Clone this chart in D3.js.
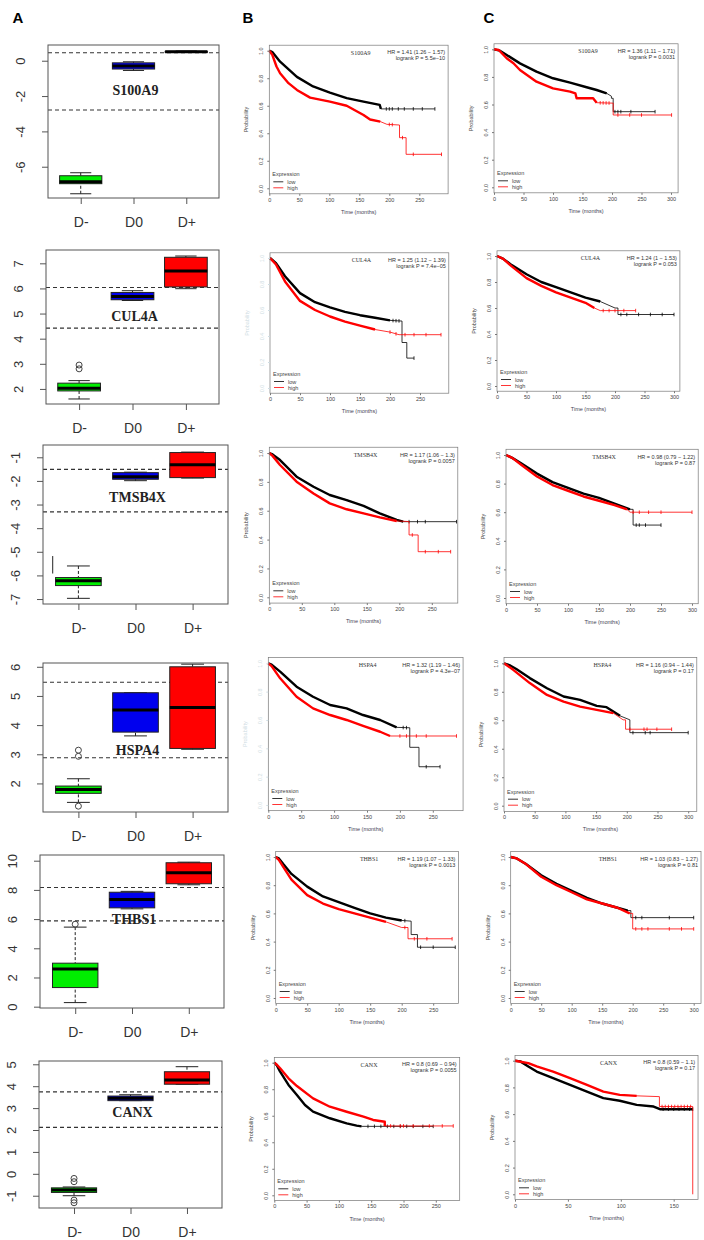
<!DOCTYPE html>
<html>
<head>
<meta charset="utf-8">
<script src="https://cdnjs.cloudflare.com/ajax/libs/d3/7.8.5/d3.min.js"></script>
<style>
body { margin: 0; background: #fff; }
</style>
</head>
<body>
<div id="fig"></div>
<script>
// ---- data ----
const genes = ["S100A9", "CUL4A", "TMSB4X", "HSPA4", "THBS1", "CANX"];
const groups = ["D-", "D0", "D+"];
const groupColors = ["#00ee00", "#0000ee", "#ff0000"];

// [lower whisker, Q1, median, Q3, upper whisker] for D-, D0, D+
const boxStats = [
  [[-7.53, -6.96, -6.85, -6.51, -6.34], [-0.55, -0.47, -0.30, -0.12, -0.06], [0.47, 0.49, 0.51, 0.53, 0.55]],
  [[1.60, 1.92, 2.03, 2.23, 2.33], [5.52, 5.55, 5.68, 5.84, 5.91], [5.99, 6.06, 6.69, 7.24, 7.29]],
  [[-6.97, -6.43, -6.23, -6.09, -5.60], [-1.99, -1.93, -1.82, -1.65, -1.63], [-1.88, -1.86, -1.32, -0.80, -0.78]],
  [[1.35, 1.66, 1.79, 1.91, 2.16], [3.63, 3.76, 4.52, 5.11, 5.11], [3.17, 3.20, 4.60, 6.00, 6.09]],
  [[0.28, 1.31, 2.58, 2.98, 5.45], [6.70, 6.77, 7.34, 7.84, 7.90], [8.35, 8.42, 9.17, 9.86, 9.90]],
  [[-1.00, -0.85, -0.74, -0.64, -0.60], [3.34, 3.34, 3.45, 3.55, 3.61], [4.09, 4.09, 4.28, 4.66, 4.89]]
];
const boxOutliers = [
  [[], [], []],
  [[2.95, 2.80], [], []],
  [[], [], []],
  [[3.14, 2.93, 1.22], [], []],
  [[5.65], [], []],
  [[-0.21, -0.36, -1.20, -1.32], [], []]
];
const cutoffs = [[0.45, -2.79], [6.04, 4.42], [-1.51, -3.31], [5.47, 2.88], [8.16, 5.88], [3.74, 2.12]];
const yDomains = [[-7.77, 0.89], [1.40, 7.53], [-7.21, -0.48], [1.02, 6.13], [-0.09, 10.39], [-1.56, 5.15]];
const yTicks = [[-6, -4, -2, 0], [2, 3, 4, 5, 6, 7], [-7, -6, -5, -4, -3, -2, -1], [2, 3, 4, 5, 6], [0, 2, 4, 6, 8, 10], [-1, 0, 1, 2, 3, 4, 5]];
const geneLabelAt = [-1.66, 4.9, -2.68, 3.15, 6.0, 2.82];
// stray vertical mark left of the TMSB4X D- box
const strayMark = [-5.92, -5.18];

// Kaplan-Meier text
const hrB = ["HR = 1.41 (1.26 \u2212 1.57)", "HR = 1.25 (1.12 \u2212 1.39)", "HR = 1.17 (1.06 \u2212 1.3)",
             "HR = 1.32 (1.19 \u2212 1.46)", "HR = 1.19 (1.07 \u2212 1.33)", "HR = 0.8 (0.69 \u2212 0.94)"];
const pB = ["logrank P = 5.5e\u221210", "logrank P = 7.4e\u221205", "logrank P = 0.0057",
            "logrank P = 4.3e\u221207", "logrank P = 0.0013", "logrank P = 0.0055"];
const hrC = ["HR = 1.36 (1.11 \u2212 1.71)", "HR = 1.24 (1 \u2212 1.53)", "HR = 0.98 (0.79 \u2212 1.22)",
             "HR = 1.16 (0.94 \u2212 1.44)", "HR = 1.03 (0.83 \u2212 1.27)", "HR = 0.8 (0.59 \u2212 1.1)"];
const pC = ["logrank P = 0.0031", "logrank P = 0.053", "logrank P = 0.87",
            "logrank P = 0.17", "logrank P = 0.81", "logrank P = 0.17"];

// survival curves [months, probability]
const lowB = [
  [[0,1],[5,0.99],[18,0.92],[46,0.81],[73,0.74],[101,0.695],[129,0.655],[157,0.63],[184,0.606],[186,0.577],[276,0.577]],
  [[0,1],[10,0.96],[25,0.86],[50,0.73],[75,0.66],[100,0.62],[125,0.585],[150,0.56],[175,0.54],[200,0.52],[220,0.515],[220,0.35],[228,0.35],[228,0.23],[240,0.23]],
  [[0,1],[5,0.99],[16.5,0.951],[42,0.836],[68,0.766],[93,0.709],[119,0.674],[145,0.633],[170,0.582],[196,0.536],[206,0.524],[288,0.524]],
  [[0,1],[5,0.99],[18,0.941],[43,0.835],[68,0.764],[94,0.706],[119,0.682],[144,0.635],[170,0.6],[195,0.548],[215,0.545],[215,0.407],[229,0.407],[229,0.27],[261,0.27]],
  [[0,1],[5,0.99],[12,0.95],[25,0.88],[50,0.79],[75,0.72],[100,0.68],[125,0.64],[150,0.6],[175,0.57],[200,0.55],[215,0.545],[215,0.45],[225,0.45],[225,0.36],[285,0.36]],
  [[0,1],[4,0.98],[9,0.932],[22,0.832],[35,0.756],[47.5,0.681],[60,0.631],[86,0.581],[112,0.543],[127.5,0.525],[135,0.52],[246,0.52]]
];
const highB = [
  [[0,1],[5,0.97],[12,0.885],[18,0.836],[32,0.764],[46,0.715],[68,0.659],[101,0.63],[129,0.6],[157,0.533],[168,0.5],[185,0.485],[196,0.465],[217,0.46],[217,0.368],[228,0.368],[228,0.247],[287,0.247]],
  [[0,1],[10,0.95],[25,0.82],[50,0.67],[75,0.6],[100,0.55],[125,0.51],[150,0.48],[175,0.45],[200,0.43],[215,0.41],[285,0.41]],
  [[0,1],[5,0.98],[16.5,0.917],[42,0.801],[68,0.72],[93,0.651],[119,0.61],[145,0.582],[170,0.554],[196,0.529],[215,0.525],[215,0.432],[229,0.432],[229,0.316],[279,0.316]],
  [[0,1],[5,0.98],[18,0.894],[43,0.764],[68,0.682],[94,0.635],[119,0.6],[144,0.558],[170,0.517],[185,0.487],[286,0.487]],
  [[0,1],[5,0.98],[12,0.93],[25,0.84],[50,0.73],[75,0.67],[100,0.63],[125,0.6],[150,0.57],[175,0.54],[200,0.5],[210,0.5],[210,0.42],[280,0.42]],
  [[0,1],[4,0.985],[9,0.958],[22,0.882],[35,0.824],[60,0.731],[86,0.668],[112,0.63],[138,0.593],[153,0.568],[171,0.555],[171,0.523],[277,0.523]]
];
const lowC = [
  [[0,1],[10,0.99],[21.5,0.959],[44,0.898],[72,0.838],[100,0.79],[129,0.758],[157,0.725],[174,0.705],[191,0.681],[199,0.66],[199,0.645],[202,0.645],[202,0.548],[273,0.548]],
  [[0,1],[10,0.98],[25,0.93],[50,0.86],[75,0.8],[100,0.76],[125,0.72],[150,0.68],[175,0.65],[200,0.6],[205,0.6],[205,0.55],[300,0.55]],
  [[0,1],[10,0.98],[25,0.94],[50,0.87],[75,0.81],[100,0.77],[125,0.73],[150,0.7],[175,0.66],[200,0.62],[205,0.62],[205,0.51],[250,0.51]],
  [[0,1],[10,0.985],[20,0.96],[42,0.896],[70,0.825],[97,0.767],[124,0.743],[151,0.701],[167,0.692],[189,0.631],[205,0.603],[205,0.513],[300,0.513]],
  [[0,1],[10,0.99],[25,0.95],[50,0.87],[75,0.81],[100,0.76],[125,0.71],[150,0.67],[175,0.64],[192,0.62],[197,0.62],[197,0.57],[300,0.57]],
  [[0,1],[5,0.995],[12.6,0.957],[20.5,0.919],[36,0.87],[52,0.819],[68,0.769],[83.5,0.72],[99,0.7],[115,0.669],[131,0.657],[137,0.637],[168,0.637]]
];
const highC = [
  [[0,1],[8,0.995],[21.5,0.935],[33,0.899],[44,0.85],[72,0.765],[100,0.717],[129,0.693],[138,0.68],[140,0.645],[168,0.645],[174,0.613],[200,0.61],[202,0.61],[202,0.524],[301,0.524]],
  [[0,1],[10,0.98],[25,0.92],[50,0.83],[75,0.77],[100,0.72],[125,0.68],[150,0.64],[165,0.6],[175,0.58],[235,0.58]],
  [[0,1],[10,0.98],[25,0.93],[50,0.85],[75,0.79],[100,0.75],[125,0.71],[150,0.68],[175,0.65],[195,0.62],[200,0.6],[300,0.6]],
  [[0,1],[15,0.954],[42,0.861],[70,0.778],[97,0.731],[124,0.696],[151,0.673],[178,0.65],[194,0.603],[198,0.603],[198,0.537],[273,0.537]],
  [[0,1],[10,0.99],[25,0.95],[50,0.86],[75,0.8],[100,0.75],[125,0.7],[150,0.67],[175,0.64],[195,0.6],[200,0.6],[200,0.49],[300,0.49]],
  [[0,1],[12.6,0.982],[20.5,0.957],[36,0.919],[52,0.87],[68,0.819],[83.5,0.769],[99,0.744],[115,0.737],[136.5,0.731],[136.5,0.657],[168,0.657],[168,0]]
];
// month up to which the censor marks merge into a thick band [low, high]
const denseB = [[207, 190], [200, 190], [210, 205], [200, 192], [200, 195], [135, 171]];
const denseC = [[195, 175], [195, 170], [200, 195], [190, 180], [195, 195], [168, 136]];
// isolated censor marks [low, high]
const censorB = [
  [[195,200,205,215,225,240,255,276], [200,205,222,240,287]],
  [[205,210,215,240], [200,210,225,240,260,285]],
  [[215,228,240,288], [220,240,260,279]],
  [[205,210,240,261], [200,210,225,240,286]],
  [[205,230,250,285], [205,220,240,280]],
  [[145,155,165,175,185,195,205,215,230,246], [180,195,200,215,240,260,277]]
];
const censorC = [
  [[205,210,215,232,273], [180,185,190,195,210,230,250,301]],
  [[210,220,240,260,280,300], [180,190,200,215,235]],
  [[210,215,225,250], [205,215,230,250,300]],
  [[210,230,238,300], [205,228,233,249,273]],
  [[205,215,260,300], [205,215,225,260,280,300]],
  [[140,145,150,155,160,165,168], [139,142,145,148,151,154,157,160,163,166]]
];

// ---- layout ----
const width = 704, height = 1240;
const boxFrames = [
  {left: 48, right: 219, top: 45, bottom: 198},
  {left: 46, right: 219, top: 250, bottom: 404},
  {left: 43, right: 228, top: 445, bottom: 604},
  {left: 43, right: 228, top: 663, bottom: 812},
  {left: 40, right: 224, top: 855, bottom: 1008},
  {left: 39, right: 222, top: 1061, bottom: 1208}
];
const kmLayoutB = [
  {left: 269.3, k: 0.6, tmax: 298, s1: 50.7, s0: 188.3},
  {left: 270, k: 0.6, tmax: 298, s1: 258, s0: 388, faint: true},
  {left: 269.3, k: 0.65, tmax: 290, s1: 453, s0: 597.3},
  {left: 268.3, k: 0.658, tmax: 296, s1: 663.3, s0: 805, faint: true},
  {left: 275.7, k: 0.63, tmax: 290, s1: 857, s0: 998},
  {left: 274.3, k: 0.646, tmax: 287, s1: 1062.7, s0: 1195.3}
];
const kmLayoutC = [
  {left: 494, k: 0.59, tmax: 312, s1: 49.3, s0: 187.3},
  {left: 497, k: 0.59, tmax: 310, s1: 256, s0: 386},
  {left: 506, k: 0.62, tmax: 310, s1: 455, s0: 598},
  {left: 504, k: 0.614, tmax: 314, s1: 663.3, s0: 805.7},
  {left: 510.7, k: 0.61, tmax: 312, s1: 857, s0: 998},
  {left: 515, k: 1.058, tmax: 173, s1: 1060.7, s0: 1194.3}
];

const svg = d3.select("#fig").append("svg")
  .attr("width", width)
  .attr("height", height)
  .style("font-family", "'Liberation Sans', Arial, sans-serif");

svg.append("rect").attr("width", width).attr("height", height).attr("fill", "#fff");

// panel letters
svg.selectAll(".letter").data([["A", 18], ["B", 248], ["C", 489]])
  .enter().append("text")
  .attr("x", d => d[1]).attr("y", 23)
  .attr("text-anchor", "middle")
  .style("font-size", "15px").style("font-weight", "bold")
  .text(d => d[0]);

// ---- column A: boxplots ----
const boxPanel = i => {
  const f = boxFrames[i];
  const x = d3.scalePoint().domain(groups).range([f.left, f.right]).padding(0.62);
  const y = d3.scaleLinear().domain(yDomains[i]).range([f.bottom, f.top]);
  const bw = x.step() * 0.8;
  const g = svg.append("g");

  g.selectAll(".cut").data(cutoffs[i]).enter().append("line")
    .attr("x1", f.left).attr("x2", f.right)
    .attr("y1", d => y(d)).attr("y2", d => y(d))
    .attr("stroke", "#333").attr("stroke-width", 1.1)
    .attr("stroke-dasharray", "4,3");

  groups.forEach((grp, j) => {
    const [lo, q1, md, q3, hi] = boxStats[i][j];
    const cx = x(grp);
    [[hi, q3], [lo, q1]].forEach(w => {
      g.append("line").attr("x1", cx).attr("x2", cx)
        .attr("y1", y(w[0])).attr("y2", y(w[1]))
        .attr("stroke", "#222").attr("stroke-dasharray", "3,2");
      g.append("line").attr("x1", cx - bw / 4).attr("x2", cx + bw / 4)
        .attr("y1", y(w[0])).attr("y2", y(w[0]))
        .attr("stroke", "#222");
    });
    g.append("rect")
      .attr("x", cx - bw / 2).attr("y", y(q3))
      .attr("width", bw).attr("height", Math.max(1, y(q1) - y(q3)))
      .attr("fill", groupColors[j]).attr("stroke", "#222");
    g.append("line").attr("x1", cx - bw / 2).attr("x2", cx + bw / 2)
      .attr("y1", y(md)).attr("y2", y(md))
      .attr("stroke", "#000").attr("stroke-width", 3);
    g.selectAll(".out" + j).data(boxOutliers[i][j]).enter().append("circle")
      .attr("cx", cx).attr("cy", d => y(d)).attr("r", 3)
      .attr("fill", "none").attr("stroke", "#444");
  });

  if (i === 2) {
    const sx = x(groups[0]) - x.step() * 0.45;
    g.append("line").attr("x1", sx).attr("x2", sx)
      .attr("y1", y(strayMark[0])).attr("y2", y(strayMark[1]))
      .attr("stroke", "#222");
  }

  g.append("rect")
    .attr("x", f.left).attr("y", f.top)
    .attr("width", f.right - f.left).attr("height", f.bottom - f.top)
    .attr("fill", "none").attr("stroke", "#555");

  const ya = g.append("g").attr("transform", `translate(${f.left},0)`)
    .call(d3.axisLeft(y).tickValues(yTicks[i]).tickSize(6).tickFormat(d => String(d)));
  ya.select(".domain").remove();
  ya.selectAll("line").attr("stroke", "#555");
  ya.selectAll("text")
    .attr("transform", "rotate(-90)")
    .attr("x", 0).attr("y", -23).attr("dy", 0)
    .attr("text-anchor", "middle")
    .attr("fill", "#333")
    .style("font-size", "13px");

  const xa = g.append("g").attr("transform", `translate(0,${f.bottom})`)
    .call(d3.axisBottom(x).tickSize(6).tickPadding(13));
  xa.select(".domain").remove();
  xa.selectAll("line").attr("stroke", "#555");
  xa.selectAll("text").attr("fill", "#333").style("font-size", "14px");

  g.append("text")
    .attr("x", x(groups[1]) + 2).attr("y", y(geneLabelAt[i]))
    .attr("dy", "0.35em").attr("text-anchor", "middle")
    .style("font-family", "'Liberation Serif', 'Times New Roman', serif")
    .style("font-weight", "bold").style("font-size", "14px")
    .attr("fill", "#222")
    .text(genes[i]);
};

// ---- columns B and C: Kaplan-Meier curves ----
const valueAt = (c, t) => {
  let v = c[0][1];
  for (let k = 0; k < c.length; k++) {
    if (c[k][0] <= t) v = c[k][1];
    else {
      const a = c[k - 1];
      if (a) v = a[1] + (c[k][1] - a[1]) * (t - a[0]) / (c[k][0] - a[0]);
      break;
    }
  }
  return v;
};

const kmPanel = (p, i, curves, dense, censor, hr, pv) => {
  const x = d3.scaleLinear().domain([0, p.tmax]).range([p.left, p.left + p.k * p.tmax]);
  const y = d3.scaleLinear().domain([0, 1]).range([p.s0, p.s1]);
  const top = y(1.04), bot = y(-0.04), right = x(p.tmax);
  const g = svg.append("g");
  const line = d3.line().x(d => x(d[0])).y(d => y(d[1]));
  const cols = ["#000", "#ff0000"];

  curves.forEach((c, j) => {
    g.append("path").attr("d", line(c))
      .attr("fill", "none").attr("stroke", cols[j]).attr("stroke-width", 0.8);
    g.append("path").attr("d", line(c.filter(d => d[0] <= dense[j])))
      .attr("fill", "none").attr("stroke", cols[j]).attr("stroke-width", 2.4)
      .attr("stroke-linejoin", "round");
    censor[j].forEach(t => {
      const cx = x(t), cy = y(valueAt(c, t));
      g.append("line").attr("x1", cx).attr("x2", cx).attr("y1", cy - 1.8).attr("y2", cy + 1.8)
        .attr("stroke", cols[j]).attr("stroke-width", 0.8);
    });
  });

  g.append("rect").attr("x", p.left).attr("y", top)
    .attr("width", right - p.left).attr("height", bot - top)
    .attr("fill", "none").attr("stroke", "#777").attr("stroke-width", 0.7);

  const tickCol = p.faint ? "#cfdde3" : "#444";
  const xa = g.append("g").attr("transform", `translate(0,${bot})`)
    .call(d3.axisBottom(x).tickValues(d3.range(0, p.tmax + 0.1, 50)).tickSize(2).tickPadding(2));
  xa.select(".domain").remove();
  xa.selectAll("line").attr("stroke", "#777");
  xa.selectAll("text").attr("fill", "#444").style("font-size", "5.5px");

  const ya = g.append("g").attr("transform", `translate(${p.left},0)`)
    .call(d3.axisLeft(y).tickValues([0, 0.2, 0.4, 0.6, 0.8, 1]).tickSize(2).tickFormat(d3.format(".1f")));
  ya.select(".domain").remove();
  ya.selectAll("line").attr("stroke", p.faint ? "#cfdde3" : "#777");
  ya.selectAll("text")
    .attr("transform", "rotate(-90)")
    .attr("x", 0).attr("y", -6).attr("dy", 0)
    .attr("text-anchor", "middle")
    .attr("fill", tickCol)
    .style("font-size", "5.5px");

  g.append("text")
    .attr("transform", `translate(${p.left - 21},${(top + bot) / 2}) rotate(-90)`)
    .attr("text-anchor", "middle")
    .attr("fill", p.faint ? "#cfdde3" : "#444")
    .style("font-size", "5.5px")
    .text("Probability");

  g.append("text")
    .attr("x", (p.left + right) / 2).attr("y", bot + 20)
    .attr("text-anchor", "middle").attr("fill", "#445")
    .style("font-size", "5.5px")
    .text("Time (months)");

  g.append("text")
    .attr("x", (p.left + right) / 2 + 2).attr("y", p.s1 + 4)
    .attr("text-anchor", "middle").attr("fill", "#333")
    .style("font-family", "'Liberation Serif', 'Times New Roman', serif")
    .style("font-size", "6px")
    .text(genes[i]);

  g.append("text")
    .attr("x", right - 3).attr("y", p.s1 + 3.5)
    .attr("text-anchor", "end").attr("fill", "#333")
    .style("font-size", "5.5px").text(hr);
  g.append("text")
    .attr("x", right - 3).attr("y", p.s1 + 9.5)
    .attr("text-anchor", "end").attr("fill", "#333")
    .style("font-size", "5.5px").text(pv);

  g.append("text")
    .attr("x", p.left + 3).attr("y", p.s0 - 12)
    .attr("fill", "#444").style("font-size", "5.5px")
    .text("Expression");
  ["low", "high"].forEach((lab, j) => {
    const ly = p.s0 - 6.5 + j * 6;
    g.append("line").attr("x1", p.left + 4).attr("x2", p.left + 14)
      .attr("y1", ly).attr("y2", ly)
      .attr("stroke", cols[j]).attr("stroke-width", 0.8);
    g.append("text")
      .attr("x", p.left + 18).attr("y", ly + 2)
      .attr("fill", "#444").style("font-size", "5.5px")
      .text(lab);
  });
};

genes.forEach((gene, i) => {
  boxPanel(i);
  kmPanel(kmLayoutB[i], i, [lowB[i], highB[i]], denseB[i], censorB[i], hrB[i], pB[i]);
  kmPanel(kmLayoutC[i], i, [lowC[i], highC[i]], denseC[i], censorC[i], hrC[i], pC[i]);
});
</script>
</body>
</html>
